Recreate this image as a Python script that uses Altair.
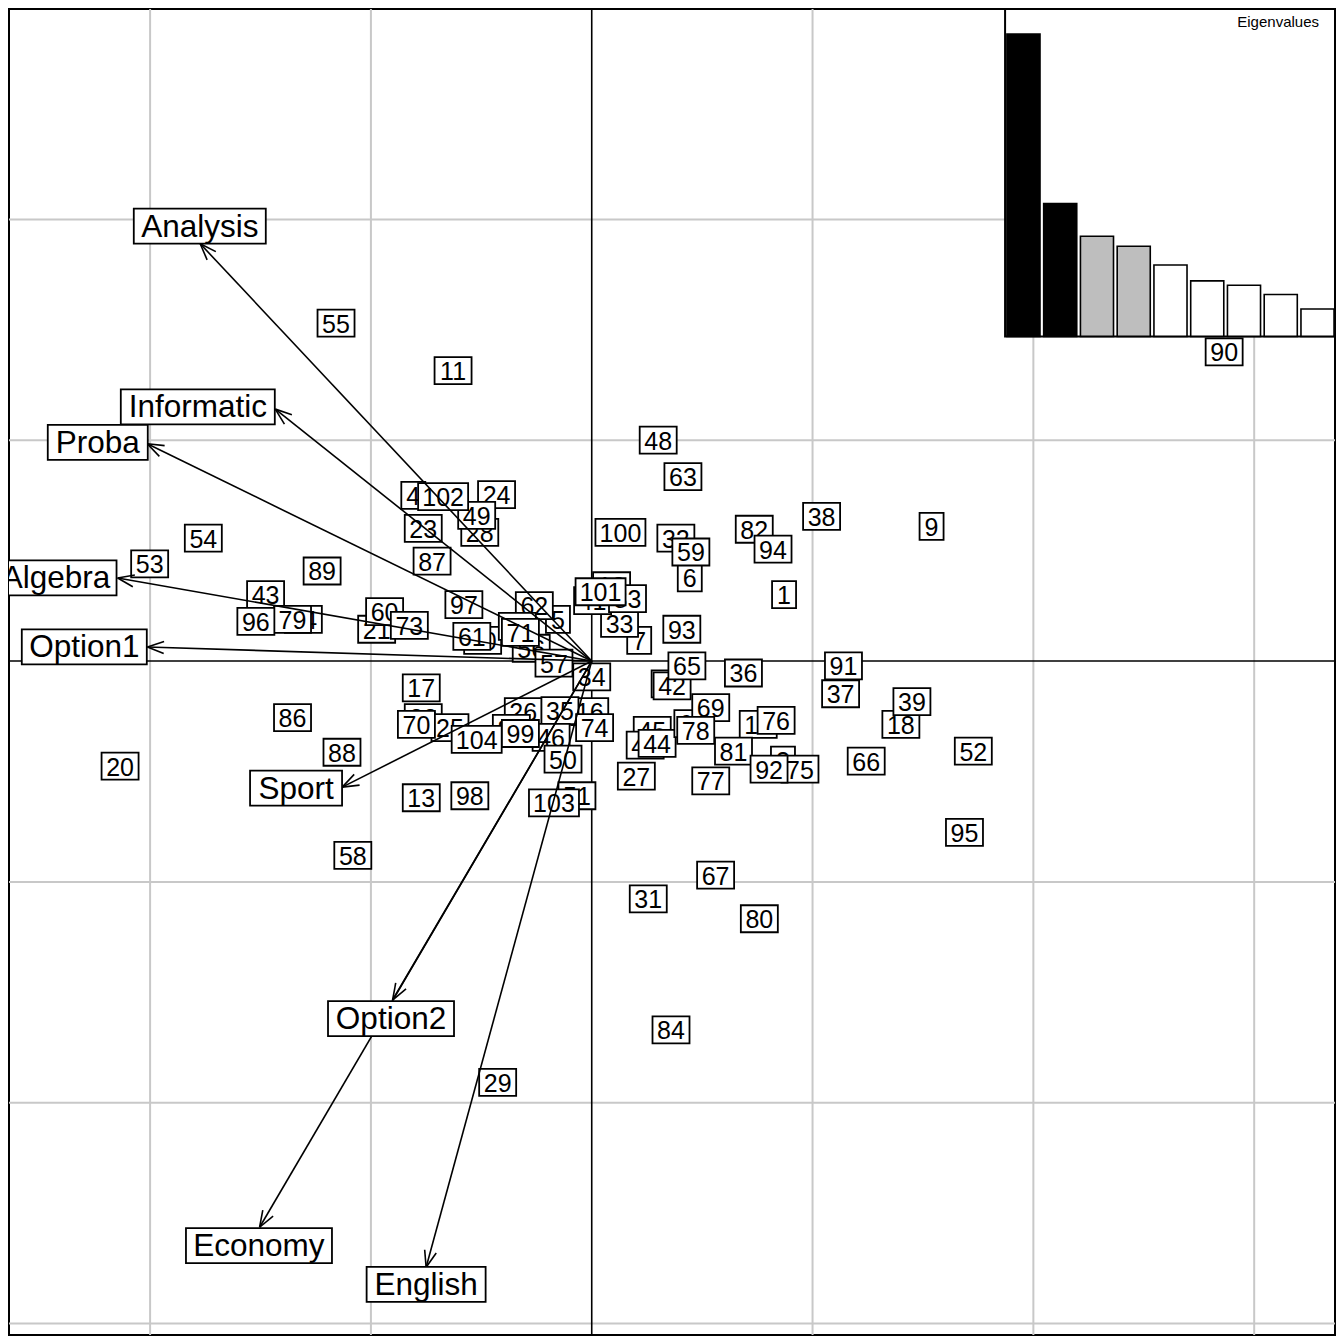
import altair as alt
import pandas as pd
import numpy as np

# ---------------- data ----------------
# individuals (row labels), listed in drawing order
ind_labels = ["1","3","4","5","6","7","9","11","12","13","16","17","18","19","20","21","22","23","24","25",
              "26","27","28","29","30","31","32","33","34","35","36","37","38","39","40","41","42","43","45","47",
              "44","46","48","49","50","51","52","53","54","55","56","57","58","59","60","61","62","63","64","65",
              "66","67","68","69","70","10","71","73","74","75","76","77","78","79","80","81","82","83","84","85",
              "86","87","88","89","90","91","92","93","94","95","96","97","98","99","100","101","102","103","104"]
ind_x = [0.871,0.866,-0.808,-0.153,0.444,0.215,1.539,-0.628,0.090,-0.772,-0.009,-0.772,1.400,0.754,-2.136,-0.974,-0.763,-0.763,-0.431,-0.642,
         -0.310,0.202,-0.507,-0.426,-0.494,0.256,0.381,0.126,0.000,-0.144,0.687,1.127,1.041,1.450,0.355,0.004,0.364,-1.477,0.274,0.242,
         0.296,-0.184,0.301,-0.521,-0.130,-0.067,1.728,-2.002,-1.759,-1.158,-0.274,-0.171,-1.082,0.449,-0.938,-0.543,-0.260,0.413,-1.306,0.431,
         1.243,0.561,0.458,0.539,-0.794,-0.337,-0.323,-0.826,0.013,0.943,0.835,0.539,0.471,-1.355,0.759,0.642,0.736,0.162,0.359,-0.364,
         -1.355,-0.723,-1.131,-1.221,2.864,1.140,0.803,0.408,0.821,1.688,-1.521,-0.579,-0.552,-0.323,0.130,0.040,-0.673,-0.171,-0.521]
ind_y = [0.301,-0.449,0.750,0.189,0.377,0.094,0.610,1.315,0.341,-0.619,-0.229,-0.121,-0.287,-0.287,-0.476,0.144,-0.256,0.601,0.754,-0.301,
         -0.229,-0.521,0.583,-1.908,0.094,-1.077,0.557,0.171,-0.072,-0.224,-0.054,-0.148,0.655,-0.184,-0.103,0.274,-0.112,0.301,-0.314,-0.381,
         -0.373,-0.346,1.001,0.660,-0.444,-0.610,-0.408,0.440,0.557,1.530,0.058,-0.009,-0.880,0.494,0.224,0.112,0.251,0.835,0.189,-0.022,
         -0.453,-0.969,-0.283,-0.211,-0.287,0.157,0.130,0.162,-0.301,-0.489,-0.269,-0.543,-0.314,0.189,-1.167,-0.408,0.597,0.283,-1.670,-0.305,
         -0.256,0.453,-0.413,0.408,1.400,-0.022,-0.489,0.144,0.507,-0.776,0.180,0.256,-0.610,-0.328,0.583,0.314,0.745,-0.642,-0.355]

# variables (arrows)
var_names = ["Analysis","Informatic","Proba","Algebra","Option1","Sport","Option2","Economy","English"]
var_x = [-1.773,-1.433,-2.013,-2.147,-2.012,-1.130,-0.902,-1.504,-0.750]
var_y = [1.890,1.141,0.984,0.376,0.064,-0.571,-1.535,-2.564,-2.745]
var_lab_x = [-1.775,-1.784,-2.237,-2.426,-2.298,-1.339,-0.909,-1.507,-0.750]
var_lab_y = [1.970,1.151,0.990,0.377,0.064,-0.575,-1.619,-2.647,-2.823]

# eigenvalues
eig = [3.117,1.369,1.032,0.930,0.736,0.572,0.528,0.432,0.283]
eig_fill = ["black","black","#BEBEBE","#BEBEBE","white","white","white","white","white"]

grid_vals_x = [-2,-1,1,2,3]
grid_vals_y = [-3,-2,-1,1,2]

# ---------------- layout / style ----------------
W = H = 1326
XMIN, XMAX = -2.639, 3.366
YMIN, YMAX = -3.052, 2.953
PX = W / (XMAX - XMIN)
FONT = "Liberation Sans"
xs = alt.Scale(domain=[XMIN, XMAX], nice=False, zero=False)
ys = alt.Scale(domain=[YMIN, YMAX], nice=False, zero=False)

digit_box_w = {1: 24, 2: 37, 3: 50}
box_h = 27
var_box_w = [132, 154, 100, 121, 125, 92, 126, 146, 119]
var_box_h = 35

# ---------------- individuals: boxes and labels ----------------
ind = pd.DataFrame({"lab": ind_labels, "x": ind_x, "y": ind_y})
hw = ind["lab"].str.len().map(digit_box_w) / 2 / PX
hh = box_h / 2 / PX
ind["x1"] = ind["x"] - hw
ind["x2"] = ind["x"] + hw
ind["y1"] = ind["y"] - hh
ind["y2"] = ind["y"] + hh
levels = []
for i in range(len(ind)):
    lv = 0
    for j in range(i):
        if (ind.x1[i] < ind.x2[j] and ind.x2[i] > ind.x1[j] and
                ind.y1[i] < ind.y2[j] and ind.y2[i] > ind.y1[j]):
            lv = max(lv, levels[j] + 1)
    levels.append(lv)
ind["level"] = levels

layers = []
layers.append(alt.Chart(pd.DataFrame({"v": grid_vals_x})).mark_rule(color="#C8C8C8", strokeWidth=2).encode(
    x=alt.X("v:Q", scale=xs, axis=None)))
layers.append(alt.Chart(pd.DataFrame({"v": grid_vals_y})).mark_rule(color="#C8C8C8", strokeWidth=2).encode(
    y=alt.Y("v:Q", scale=ys, axis=None)))
layers.append(alt.Chart(pd.DataFrame({"v": [0]})).mark_rule(color="black", strokeWidth=1.6).encode(
    x=alt.X("v:Q", scale=xs, axis=None)))
layers.append(alt.Chart(pd.DataFrame({"v": [0]})).mark_rule(color="black", strokeWidth=1.6).encode(
    y=alt.Y("v:Q", scale=ys, axis=None)))

for lv in sorted(ind["level"].unique()):
    sub = ind[ind["level"] == lv]
    c = alt.Chart(sub)
    layers.append(c.mark_rect(fill="white", stroke="black", strokeWidth=1.8, clip=True).encode(
        x=alt.X("x1:Q", scale=xs, axis=None), x2="x2:Q",
        y=alt.Y("y1:Q", scale=ys, axis=None), y2="y2:Q"))
    layers.append(c.mark_text(font=FONT, fontSize=25, baseline="middle", align="center",
                              dy=1.5, color="black", clip=True).encode(
        x=alt.X("x:Q", scale=xs, axis=None), y=alt.Y("y:Q", scale=ys, axis=None), text="lab:N"))

# ---------------- arrows ----------------
var = pd.DataFrame({"name": var_names, "x": var_x, "y": var_y, "lx": var_lab_x, "ly": var_lab_y,
                    "bw": var_box_w})
var["x0"] = 0.0
var["y0"] = 0.0
theta = np.arctan2(var["y"], var["x"])
L = 17.5 / PX
a = np.deg2rad(20)
heads = pd.concat([
    pd.DataFrame({"x": var["x"], "y": var["y"],
                  "x2": var["x"] - L * np.cos(theta + a), "y2": var["y"] - L * np.sin(theta + a)}),
    pd.DataFrame({"x": var["x"], "y": var["y"],
                  "x2": var["x"] - L * np.cos(theta - a), "y2": var["y"] - L * np.sin(theta - a)}),
])
layers.append(alt.Chart(var).mark_rule(color="black", strokeWidth=1.6, clip=True).encode(
    x=alt.X("x0:Q", scale=xs, axis=None), y=alt.Y("y0:Q", scale=ys, axis=None), x2="x:Q", y2="y:Q"))
layers.append(alt.Chart(heads).mark_rule(color="black", strokeWidth=1.6, clip=True).encode(
    x=alt.X("x:Q", scale=xs, axis=None), y=alt.Y("y:Q", scale=ys, axis=None), x2="x2:Q", y2="y2:Q"))

var["bx1"] = var["lx"] - var["bw"] / 2 / PX
var["bx2"] = var["lx"] + var["bw"] / 2 / PX
var["by1"] = var["ly"] - var_box_h / 2 / PX
var["by2"] = var["ly"] + var_box_h / 2 / PX
vc = alt.Chart(var)
layers.append(vc.mark_rect(fill="white", stroke="black", strokeWidth=1.8, clip=True).encode(
    x=alt.X("bx1:Q", scale=xs, axis=None), x2="bx2:Q",
    y=alt.Y("by1:Q", scale=ys, axis=None), y2="by2:Q"))
layers.append(vc.mark_text(font=FONT, fontSize=31.5, baseline="middle", align="center",
                           dy=1.5, color="black", clip=True).encode(
    x=alt.X("lx:Q", scale=xs, axis=None), y=alt.Y("ly:Q", scale=ys, axis=None), text="name:N"))

main = alt.layer(*layers)

# ---------------- eigenvalue inset ----------------
EX = alt.Scale(domain=[-27.10, 8.976], nice=False, zero=False)
EY = alt.Scale(domain=[-10.298, 3.376], nice=False, zero=False)
eigdf = pd.DataFrame({"i": np.arange(len(eig)), "ev": eig, "fill": eig_fill})
eigdf["x1"] = eigdf["i"] + 0.05
eigdf["x2"] = eigdf["i"] + 0.95
eigdf["zero"] = 0.0
frame = pd.DataFrame({"x1": [0.0], "x2": [8.976], "y1": [0.0], "y2": [3.376]})
inset = alt.layer(
    alt.Chart(frame).mark_rect(fill="white", stroke="black", strokeWidth=2).encode(
        x=alt.X("x1:Q", scale=EX, axis=None), x2="x2:Q",
        y=alt.Y("y1:Q", scale=EY, axis=None), y2="y2:Q"),
    alt.Chart(eigdf).mark_rect(stroke="black", strokeWidth=1.6).encode(
        x=alt.X("x1:Q", scale=EX, axis=None), x2="x2:Q",
        y=alt.Y("zero:Q", scale=EY, axis=None), y2="ev:Q",
        fill=alt.Fill("fill:N", scale=None)),
    alt.Chart(pd.DataFrame({"t": ["Eigenvalues"]})).mark_text(
        font=FONT, fontSize=15, align="right", baseline="alphabetic", color="black").encode(
        x=alt.value(W - 16), y=alt.value(18), text="t:N"),
)

chart = alt.layer(main, inset).resolve_scale(x="independent", y="independent").properties(
    width=W, height=H, background="white", padding=0
).configure_view(stroke="black", strokeWidth=2)

chart.save("out.html", embed_options={"renderer": "svg", "actions": False})
